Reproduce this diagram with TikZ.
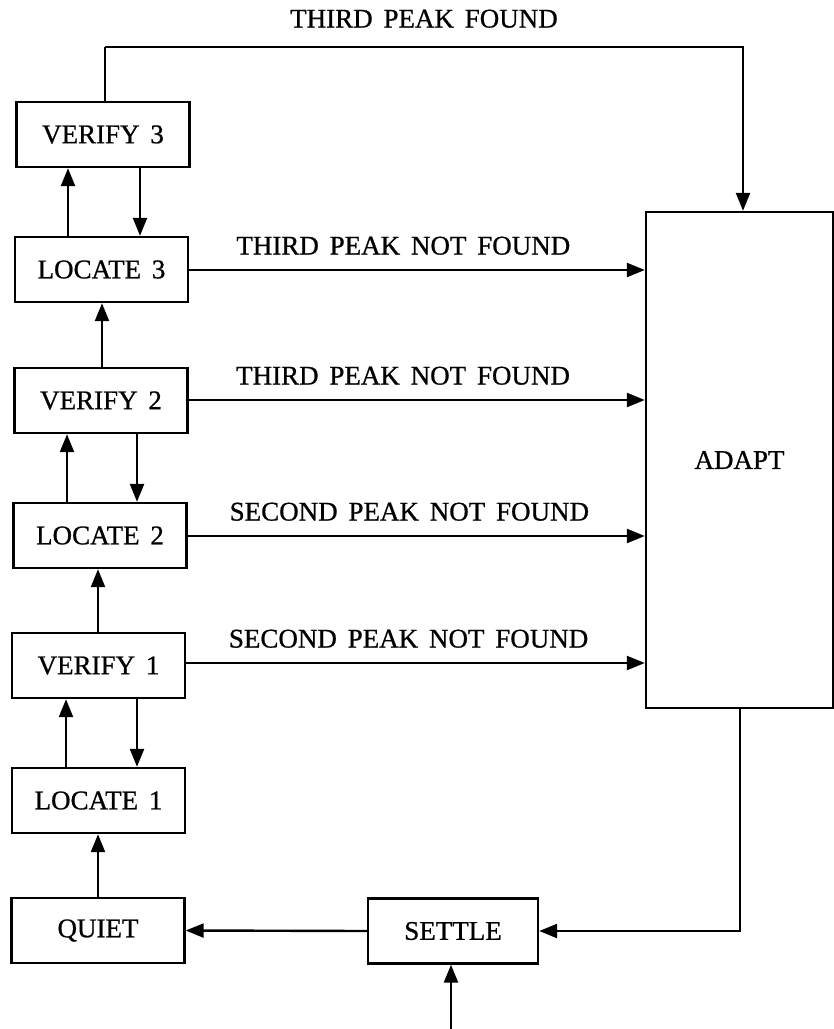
\documentclass[tikz,border=0pt]{standalone}
\usepackage{fontspec}
\setmainfont[FakeBold=0.8,AutoFakeBold=0.8]{Liberation Serif}
\newfontfamily\lblfont[FakeBold=0.8,WordSpace=1.6]{Liberation Serif}
\usetikzlibrary{arrows.meta}
\begin{document}
\begin{tikzpicture}[x=0.5pt,y=-0.5pt,
  box/.style={draw, line width=1.2pt, minimum width=86.5pt, minimum height=32.5pt, inner sep=0pt, font=\lblfont\fontsize{13.5}{16}\selectfont},
  bigbox/.style={draw, line width=1.2pt, minimum width=93.5pt, minimum height=248pt, inner sep=0pt, font=\lblfont\fontsize{13.5}{16}\selectfont},
  conn/.style={line width=1.2pt},
  arr/.style={conn, -{Triangle[length=9pt,width=7pt]}},
  lbl/.style={font=\lblfont\fontsize{13.5}{16}\selectfont, inner sep=0pt}
]
\useasboundingbox (0,0) rectangle (834,1029);
% nodes
\node[box] (ver3) at (103,134.5) {VERIFY 3};
\node[box] (loc3) at (101.5,269.5) {LOCATE 3};
\node[box] (ver2) at (101,400.5) {VERIFY 2};
\node[box] (loc2) at (100,535.5) {LOCATE 2};
\node[box] (ver1) at (98.5,665.5) {VERIFY 1};
\node[box] (loc1) at (98.5,800.5) {LOCATE 1};
\node[box] (quiet) at (98,930.5) {QUIET};
\node[box, minimum width=85pt] (settle) at (453,931) {SETTLE};
\node[bigbox] (adapt) at (739.5,460) {ADAPT};
% coordinates
\coordinate (tl) at (105,47);
\coordinate (tr) at (743,47);
\coordinate (br) at (740,930);
\coordinate (inp) at (451,1029);
% top loop
\draw[conn] (ver3.north -| tl) -- (tl);
\draw[arr] (tl) -- node[lbl, above=9pt] {THIRD PEAK FOUND} (tr) -- (adapt.north -| tr);
% vertical arrows
\draw[arr] (loc3.north -| 68,0) -- (ver3.south -| 68,0);
\draw[arr] (ver3.south -| 140,0) -- (loc3.north -| 140,0);
\draw[arr] (ver2.north -| 102,0) -- (loc3.south -| 102,0);
\draw[arr] (loc2.north -| 67,0) -- (ver2.south -| 67,0);
\draw[arr] (ver2.south -| 137,0) -- (loc2.north -| 137,0);
\draw[arr] (ver1.north -| 98,0) -- (loc2.south -| 98,0);
\draw[arr] (loc1.north -| 66,0) -- (ver1.south -| 66,0);
\draw[arr] (ver1.south -| 137,0) -- (loc1.north -| 137,0);
\draw[arr] (quiet.north -| 98,0) -- (loc1.south -| 98,0);
% horizontal arrows to ADAPT
\draw[arr] (loc3.east |- 0,270) -- node[lbl, above=7pt, pos=0.47] {THIRD PEAK NOT FOUND} (adapt.west |- 0,270);
\draw[arr] (ver2.east |- 0,400) -- node[lbl, above=7pt, pos=0.47] {THIRD PEAK NOT FOUND} (adapt.west |- 0,400);
\draw[arr] (loc2.east |- 0,536) -- node[lbl, above=7pt, pos=0.485] {SECOND PEAK NOT FOUND} (adapt.west |- 0,536);
\draw[arr] (ver1.east |- 0,663) -- node[lbl, above=7pt, pos=0.485] {SECOND PEAK NOT FOUND} (adapt.west |- 0,663);
% bottom
\draw[arr] (adapt.south -| br) |- (settle.east);
\draw[arr] (settle.west) -- (quiet.east);
\draw[arr] (inp) -- (settle.south -| inp);
\end{tikzpicture}
\end{document}
